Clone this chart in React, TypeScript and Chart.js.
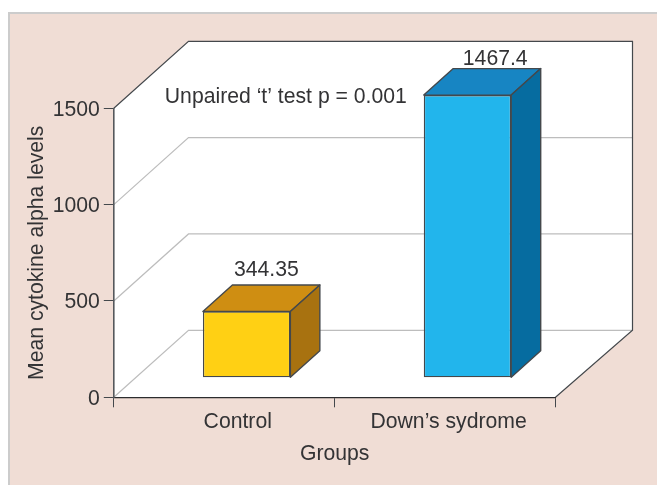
import React, { useEffect, useRef } from "react";
import { Chart, registerables } from "chart.js";

Chart.register(...registerables);

const categories = ["Control", "Down’s sydrome"];
const meanLevels = [344.35, 1467.4];
const valueLabels = ["344.35", "1467.4"];
const frontColors = ["#FFD014", "#22B5EC"];
const topColors = ["#CF8E12", "#1785C3"];
const sideColors = ["#A87210", "#066CA0"];
const annotation = "Unpaired ‘t’ test p = 0.001";
const yTitle = "Mean cytokine alpha levels";
const xTitle = "Groups";

const FONT = "'Liberation Sans', Arial, sans-serif";
const FONT_SIZE = 21.2;
const TEXT = "#333335";
const EDGE = "#44484c";
const GRID = "#bdbdbd";
const WALL_DX = 74.7;
const WALL_DY = 67;
const WALL_RIGHT_DX = 77;
const BAR_DX = 22.4;
const BAR_DY = -19.5;
const CUBE_DX = 29.5;
const CUBE_DY = 26.5;
const LABEL_SHIFT = [13.5, 3.5];
const Y_LABEL_SHIFT = 1.5;
const VALUE_OFFSET = [
  [5, -15],
  [13, -9.5],
];

const chart3d = {
  id: "chart3d",
  beforeDraw(chart: any) {
    const { ctx, chartArea: a } = chart;
    const y = chart.scales.y;
    ctx.save();
    ctx.beginPath();
    ctx.moveTo(a.left, a.top);
    ctx.lineTo(a.left + WALL_DX, a.top - WALL_DY);
    ctx.lineTo(a.right + WALL_RIGHT_DX, a.top - WALL_DY);
    ctx.lineTo(a.right + WALL_RIGHT_DX, a.bottom - WALL_DY);
    ctx.lineTo(a.right, a.bottom);
    ctx.lineTo(a.left, a.bottom);
    ctx.closePath();
    ctx.fillStyle = "#ffffff";
    ctx.fill();
    ctx.lineWidth = 1.2;
    ctx.strokeStyle = GRID;
    for (const tick of y.ticks.slice(0, -1)) {
      const py = y.getPixelForValue(tick.value);
      ctx.beginPath();
      ctx.moveTo(a.left, py);
      ctx.lineTo(a.left + WALL_DX, py - WALL_DY);
      ctx.lineTo(a.right + WALL_RIGHT_DX, py - WALL_DY);
      ctx.stroke();
    }
    ctx.strokeStyle = EDGE;
    ctx.beginPath();
    ctx.moveTo(a.left, a.top);
    ctx.lineTo(a.left + WALL_DX, a.top - WALL_DY);
    ctx.lineTo(a.right + WALL_RIGHT_DX, a.top - WALL_DY);
    ctx.lineTo(a.right + WALL_RIGHT_DX, a.bottom - WALL_DY);
    ctx.lineTo(a.right, a.bottom);
    ctx.stroke();
    ctx.restore();

    chart.scales.x.getLabelItems(a).forEach((item: any, i: number) => {
      if (!item.shifted) {
        item.options.translation[0] += LABEL_SHIFT[i];
        item.options.translation[1] += 0.5;
        item.shifted = true;
      }
    });
    chart.scales.y.getLabelItems(a).forEach((item: any) => {
      if (!item.shifted) {
        item.options.translation[1] += Y_LABEL_SHIFT;
        item.shifted = true;
      }
    });
  },
  beforeDatasetsDraw(chart: any) {
    const { ctx } = chart;
    ctx.save();
    ctx.translate(BAR_DX, BAR_DY);
    chart.getDatasetMeta(0).data.forEach((bar: any, i: number) => {
      const { x, y, base, width } = bar.getProps(["x", "y", "base", "width"]);
      const l = x - width / 2;
      const r = x + width / 2;
      ctx.lineWidth = 1.4;
      ctx.lineJoin = "round";
      ctx.strokeStyle = EDGE;
      ctx.fillStyle = topColors[i];
      ctx.beginPath();
      ctx.moveTo(l, y);
      ctx.lineTo(l + CUBE_DX, y - CUBE_DY);
      ctx.lineTo(r + CUBE_DX, y - CUBE_DY);
      ctx.lineTo(r, y);
      ctx.closePath();
      ctx.fill();
      ctx.stroke();
      ctx.fillStyle = sideColors[i];
      ctx.beginPath();
      ctx.moveTo(r, y);
      ctx.lineTo(r + CUBE_DX, y - CUBE_DY);
      ctx.lineTo(r + CUBE_DX, base - CUBE_DY);
      ctx.lineTo(r, base);
      ctx.closePath();
      ctx.fill();
      ctx.stroke();
    });
  },
  afterDatasetsDraw(chart: any) {
    const { ctx, chartArea: a } = chart;
    ctx.font = `${FONT_SIZE}px ${FONT}`;
    ctx.fillStyle = TEXT;
    ctx.textBaseline = "middle";
    ctx.textAlign = "center";
    chart.getDatasetMeta(0).data.forEach((bar: any, i: number) => {
      const { x, y } = bar.getProps(["x", "y"]);
      ctx.fillText(
        valueLabels[i],
        x + CUBE_DX / 2 + VALUE_OFFSET[i][0],
        y - CUBE_DY + VALUE_OFFSET[i][1]
      );
    });
    ctx.restore();
    ctx.save();
    ctx.font = `${FONT_SIZE}px ${FONT}`;
    ctx.fillStyle = TEXT;
    ctx.textBaseline = "middle";
    ctx.textAlign = "left";
    ctx.fillText(annotation, a.left + 51, a.top - 11.5);
    ctx.restore();
  },
};

export default function App() {
  const ref = useRef<HTMLCanvasElement>(null);
  useEffect(() => {
    const font = { family: FONT, size: FONT_SIZE };
    const chart = new Chart(ref.current!, {
      type: "bar",
      data: {
        labels: categories,
        datasets: [
          {
            data: meanLevels,
            backgroundColor: frontColors,
            borderColor: EDGE,
            borderWidth: 1.4,
            borderSkipped: false,
            barPercentage: 0.396,
            categoryPercentage: 1,
            clip: false,
          } as any,
        ],
      },
      options: {
        responsive: false,
        animation: false,
        devicePixelRatio: 1,
        layout: { padding: { top: 108.3, right: 101.5, left: 0, bottom: 0 } },
        plugins: { legend: { display: false }, tooltip: { enabled: false } },
        scales: {
          x: {
            offset: true,
            grid: {
              offset: true,
              drawOnChartArea: false,
              tickLength: 10,
              tickColor: EDGE,
              tickWidth: 1,
            },
            border: { color: "#2c2c2e", width: 1.2 },
            ticks: { font, color: TEXT, padding: 2, maxRotation: 0 },
            title: {
              display: true,
              text: xTitle,
              font,
              color: TEXT,
              padding: { top: 0, bottom: 18.5 },
            },
            afterFit(scale: any) {
              scale.height = 87.7;
            },
          },
          y: {
            min: 0,
            max: 1500,
            ticks: {
              stepSize: 500,
              font,
              color: TEXT,
              padding: 4,
              callback: (v: any) => String(v),
            },
            grid: {
              drawOnChartArea: false,
              tickLength: 10,
              tickColor: EDGE,
              tickWidth: 1,
            },
            border: { color: "#55585c", width: 1.6 },
            title: {
              display: true,
              text: yTitle,
              font,
              color: TEXT,
              padding: { top: 24.3, bottom: 0 },
            },
            afterFit(scale: any) {
              scale.width = 113.8;
            },
          },
        },
      },
      plugins: [chart3d],
    } as any);
    return () => chart.destroy();
  }, []);

  return (
    <div
      style={{
        position: "fixed",
        left: 0,
        top: 0,
        width: 657,
        height: 485,
        background: "#ffffff",
        overflow: "hidden",
      }}
    >
      <div
        style={{
          position: "absolute",
          left: 8,
          top: 12,
          width: 649,
          height: 473,
          boxSizing: "border-box",
          background: "#F0DDD5",
          borderTop: "2px solid #cccccc",
          borderLeft: "2px solid #cccccc",
        }}
      />
      <canvas
        ref={ref}
        width={657}
        height={485}
        style={{ position: "absolute", left: 0, top: 0, display: "block" }}
      />
    </div>
  );
}
